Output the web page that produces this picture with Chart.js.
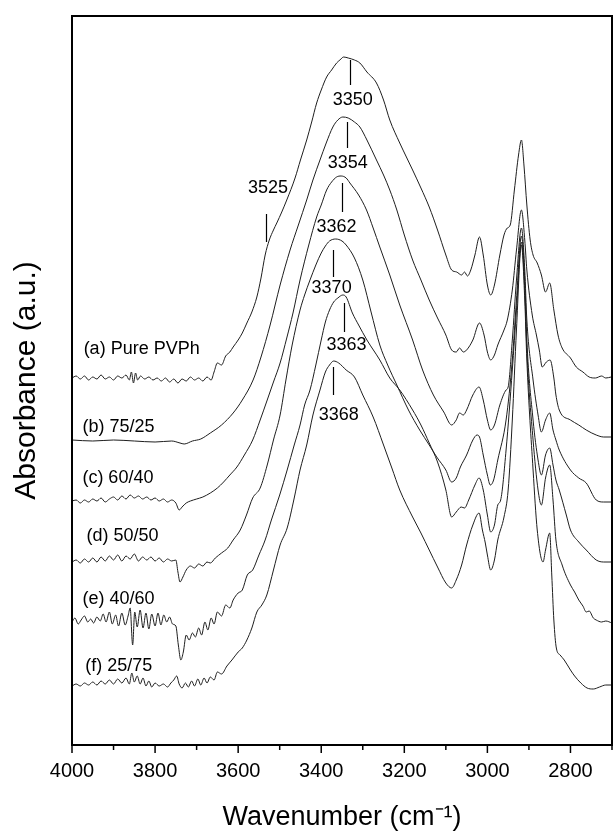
<!DOCTYPE html>
<html><head><meta charset="utf-8">
<script src="https://cdn.jsdelivr.net/npm/chart.js@4.4.1/dist/chart.umd.min.js"></script>
<style>html,body{margin:0;padding:0;background:#fff;}#wrap{width:613px;height:838px;}</style>
</head><body><div id="wrap"><canvas id="c" width="613" height="838"></canvas></div>
<script>
// Wavenumber (cm-1) / absorbance (a.u., stacked with offsets) for each spectrum
const wnA = [4000,3990,3980,3970,3960,3950,3940,3930,3920,3910,3900,3890,3880,3870,3862,3857,3852,3847,3842,3835,3825,3815,3805,3795,3785,3775,3765,3755,3745,3735,3725,3715,3705,3695,3685,3675,3665,3658,3650,3640,3630,3620,3612,3600,3590,3579,3567,3555,3545,3535,3525,3515,3507,3495,3483,3463,3450,3435,3423,3411,3400,3387,3375,3363,3355,3346,3335,3320,3307,3290,3267,3250,3235,3211,3195,3180,3160,3140,3120,3100,3086,3074,3062,3055,3048,3040,3030,3019,3010,3000,2992,2983,2970,2960,2952,2945,2935,2925,2918,2912,2905,2897,2890,2880,2870,2860,2850,2840,2830,2820,2800,2786,2770,2755,2740,2725,2715,2702];
const absA = [367,369,366,369,365,368,366,370,366,368,365,369,367,370,365,373,362,372,365,369,366,368,365,367,364,367,363,366,362,366,364,368,365,367,364,368,365,373,382,380,389,393,398,405,412,422,433,448,467,490,505,515,522,533,545,567,585,605,623,642,655,668,675,682,685,688,687,685,682,673,662,645,625,602,588,575,557,538,515,490,475,473,470,473,469,475,490,508,490,460,450,460,490,510,517,520,555,590,605,580,540,505,490,482,470,453,462,435,410,397,387,378,373,368,367,369,367,368];

const wnB = [4000,3950,3900,3850,3800,3760,3740,3730,3710,3690,3667,3640,3612,3590,3564,3545,3523,3499,3475,3455,3435,3420,3403,3388,3372,3360,3348,3335,3320,3307,3290,3267,3250,3235,3218,3200,3180,3160,3140,3120,3100,3086,3075,3067,3058,3050,3035,3019,3008,3000,2992,2983,2975,2960,2952,2940,2930,2918,2910,2905,2892,2882,2875,2868,2858,2849,2840,2835,2827,2800,2780,2762,2738,2720,2700];
const absB = [305,304,305,304,303,304,302,301,304,306,312,320,332,345,365,388,420,460,495,520,545,565,585,602,618,625,628,627,623,618,605,585,570,555,535,510,485,465,445,427,410,395,393,397,393,395,405,422,410,393,385,390,400,415,425,455,495,535,505,475,430,410,395,378,383,385,367,350,335,325,320,315,310,308,308];

const wnC = [4000,3990,3980,3970,3960,3950,3940,3930,3920,3910,3900,3890,3880,3870,3860,3850,3840,3830,3820,3810,3800,3790,3780,3770,3760,3750,3742,3735,3725,3715,3700,3685,3667,3650,3635,3620,3603,3585,3565,3547,3530,3515,3499,3483,3468,3451,3430,3411,3400,3387,3375,3363,3352,3340,3331,3310,3291,3275,3259,3235,3211,3180,3156,3130,3105,3086,3075,3067,3058,3050,3035,3020,3010,3000,2992,2983,2970,2955,2950,2940,2930,2918,2910,2905,2890,2878,2870,2860,2850,2842,2835,2827,2800,2780,2762,2738,2720,2700];
const absC = [244,245,242,245,243,246,244,247,243,246,248,245,249,246,250,247,249,246,248,245,247,244,246,243,245,242,235,238,242,244,246,248,252,257,263,270,278,290,305,325,345,363,382,407,432,465,500,528,540,555,563,568,569,567,562,550,535,517,498,470,440,405,375,350,333,320,325,332,330,335,350,358,345,325,315,320,340,355,358,405,465,517,475,425,365,330,313,325,332,315,305,295,275,267,262,245,243,243];

const wnD = [4000,3990,3980,3970,3960,3950,3940,3930,3920,3910,3900,3890,3880,3870,3860,3850,3840,3830,3820,3810,3800,3790,3780,3770,3760,3750,3745,3740,3733,3725,3715,3705,3695,3685,3675,3667,3655,3640,3625,3612,3595,3580,3565,3547,3530,3515,3499,3485,3470,3451,3440,3427,3413,3400,3390,3380,3365,3350,3340,3320,3300,3280,3259,3240,3218,3190,3163,3140,3122,3100,3086,3075,3065,3050,3035,3025,3019,3010,3000,2993,2985,2975,2955,2940,2930,2918,2910,2905,2890,2878,2870,2860,2850,2842,2835,2827,2810,2800,2780,2762,2738,2720,2700];
const absD = [183,185,182,186,183,187,183,188,184,189,185,190,184,189,186,191,184,188,185,188,184,187,183,186,184,185,173,163,168,175,179,177,181,179,183,182,187,192,197,205,215,230,247,257,280,305,330,365,400,435,450,465,480,492,499,504,506,504,500,487,465,433,400,380,360,335,315,300,288,275,263,267,278,290,305,310,308,290,270,260,265,285,325,385,445,509,465,405,325,285,270,290,297,280,265,255,230,215,203,195,185,183,183];

const wnE = [4000,3993,3985,3978,3970,3962,3955,3948,3940,3932,3925,3918,3910,3903,3895,3888,3880,3872,3865,3860,3854,3849,3843,3836,3829,3822,3815,3808,3800,3793,3786,3779,3772,3765,3758,3750,3744,3738,3732,3725,3718,3710,3703,3695,3688,3680,3673,3665,3658,3650,3640,3630,3620,3612,3600,3590,3578,3565,3550,3535,3520,3500,3482,3465,3451,3440,3427,3413,3400,3390,3380,3370,3360,3348,3340,3325,3310,3290,3259,3235,3211,3180,3160,3140,3120,3100,3086,3075,3063,3055,3045,3030,3020,3010,3000,2992,2983,2975,2968,2955,2940,2930,2918,2910,2905,2890,2878,2870,2860,2850,2842,2835,2820,2800,2790,2780,2770,2762,2755,2745,2738,2725,2715,2700];
const absE = [123,127,121,125,129,123,126,122,128,124,131,123,133,121,130,119,132,120,129,137,100,133,118,135,117,132,116,131,119,132,120,130,123,128,121,119,100,85,93,110,105,112,108,117,110,123,115,127,121,133,129,140,137,145,152,155,170,175,190,205,225,250,275,300,320,340,355,380,405,423,435,443,447,450,448,432,420,405,385,367,355,335,320,302,283,255,228,233,238,237,245,260,267,255,230,213,220,240,245,295,375,435,503,455,395,305,255,240,267,280,245,205,180,160,153,145,139,133,134,127,125,123,124,122];

const wnF = [4000,3990,3980,3970,3960,3950,3940,3930,3920,3910,3900,3890,3880,3870,3862,3856,3850,3843,3836,3829,3822,3815,3808,3800,3790,3780,3770,3762,3755,3748,3742,3735,3727,3720,3712,3705,3697,3690,3682,3675,3667,3658,3650,3640,3627,3615,3600,3590,3579,3567,3555,3543,3531,3515,3499,3482,3465,3451,3435,3420,3403,3390,3380,3370,3358,3340,3320,3300,3275,3250,3230,3211,3180,3160,3140,3120,3100,3086,3075,3062,3050,3035,3020,3012,3005,3000,2992,2983,2975,2960,2950,2940,2930,2918,2910,2905,2890,2880,2866,2860,2850,2845,2840,2834,2825,2815,2800,2790,2775,2760,2745,2730,2715,2700];
const absF = [59,61,59,62,60,63,60,64,61,65,61,66,62,67,61,72,63,69,61,67,59,64,58,62,59,61,58,62,65,69,61,57,62,58,64,59,66,60,67,62,68,65,73,71,79,85,93,97,105,117,133,140,150,175,200,217,247,275,300,330,355,373,380,384,382,375,368,350,328,300,277,255,228,212,195,178,162,157,165,180,200,220,232,215,202,190,175,185,205,228,255,325,415,500,445,385,275,215,183,195,212,170,125,97,90,85,75,69,62,57,56,58,60,60];

// Curve labels
const seriesNames = ['(a) Pure PVPh','(b) 75/25','(c) 60/40','(d) 50/50','(e) 40/60','(f) 25/75'];
const seriesLabelWn = [3972,3975,3975,3965,3975,3968];
const seriesLabelAbs = [396,318,267,209,146,79];

// Peak position annotations
const peakText = ['3350','3354','3362','3370','3363','3368','3525'];
const peakTickWn = [3331,3339,3351,3372,3346,3372,3533];
const peakTickTop = [685,623,562,495,442,378,531];
const peakTickBottom = [660,597,533,468,413,350,503];
const peakTextWn = [3324,3336,3363,3375,3339,3358,3528];
const peakTextAbs = [645,582,518,457,400,330,557];

// Axis
const xMin = 2700, xMax = 4000, xStep = 100, xLabelStep = 200;

const FONT = "'Liberation Sans', Arial, Helvetica, sans-serif";
const LINE = '#1e1e1e';

function pts(w, a){ return w.map((x,i)=>({x:x, y:a[i]})); }
const series = [[wnA,absA],[wnB,absB],[wnC,absC],[wnD,absD],[wnE,absE],[wnF,absF]];

const overlay = {
  id:'overlay',
  afterDatasetsDraw(chart){
    const {ctx, chartArea:ca, scales:{x, y}} = chart;
    ctx.save();
    ctx.fillStyle = '#000';
    ctx.strokeStyle = '#000';
    ctx.font = '18px ' + FONT;
    ctx.textAlign = 'left'; ctx.textBaseline = 'middle';
    seriesNames.forEach((t,i)=>{
      ctx.fillText(t, x.getPixelForValue(seriesLabelWn[i]), y.getPixelForValue(seriesLabelAbs[i]));
    });
    ctx.lineWidth = 1.2;
    peakText.forEach((t,i)=>{
      const px = Math.round(x.getPixelForValue(peakTickWn[i])) + 0.5;
      ctx.beginPath();
      ctx.moveTo(px, y.getPixelForValue(peakTickTop[i]));
      ctx.lineTo(px, y.getPixelForValue(peakTickBottom[i]));
      ctx.stroke();
      ctx.textAlign = 'center';
      ctx.fillText(t, x.getPixelForValue(peakTextWn[i]), y.getPixelForValue(peakTextAbs[i]));
    });
    ctx.lineWidth = 2;
    ctx.strokeRect(ca.left, ca.top, ca.right - ca.left, ca.bottom - ca.top);
    ctx.lineWidth = 1.5;
    x.ticks.forEach(t=>{
      const px = x.getPixelForValue(t.value);
      const len = (t.value % xLabelStep === 0) ? 8 : 5;
      ctx.beginPath();
      ctx.moveTo(px, ca.bottom);
      ctx.lineTo(px, ca.bottom + len);
      ctx.stroke();
    });
    ctx.restore();
  }
};

new Chart(document.getElementById('c'), {
  type:'line',
  data:{
    datasets: series.map((s,i)=>({
      label: seriesNames[i],
      data: pts(s[0], s[1]),
      borderColor: LINE,
      borderWidth: 1,
      pointRadius: 0,
      fill: false,
      cubicInterpolationMode: 'monotone'
    }))
  },
  options:{
    responsive:false,
    animation:false,
    devicePixelRatio:1,
    layout:{padding:{left:0,right:1,top:16,bottom:0}},
    plugins:{legend:{display:false}, tooltip:{enabled:false}},
    scales:{
      x:{
        type:'linear', reverse:true, min:xMin, max:xMax,
        ticks:{stepSize:xStep, autoSkip:false, maxRotation:0, padding:14,
          color:'#000', font:{family:FONT, size:20},
          callback:(v)=> (v % xLabelStep === 0) ? String(v) : ''},
        grid:{display:false, drawTicks:false},
        border:{display:false},
        title:{display:true, text:'Wavenumber (cm⁻¹)', color:'#000',
          font:{family:FONT, size:27}, padding:{top:0,bottom:4}},
        afterFit(s){ s.height = 838 - 745; s.paddingLeft = 0; s.paddingRight = 0; }
      },
      y:{
        min:0, max:729,
        ticks:{display:false},
        grid:{display:false, drawTicks:false},
        border:{display:false},
        title:{display:true, text:'Absorbance (a.u.)', color:'#000',
          font:{family:FONT, size:30}, padding:{top:9,bottom:0}},
        afterFit(s){ s.width = 72; s.paddingTop = 0; s.paddingBottom = 0; }
      }
    }
  },
  plugins:[overlay]
});
</script>
</body></html>
